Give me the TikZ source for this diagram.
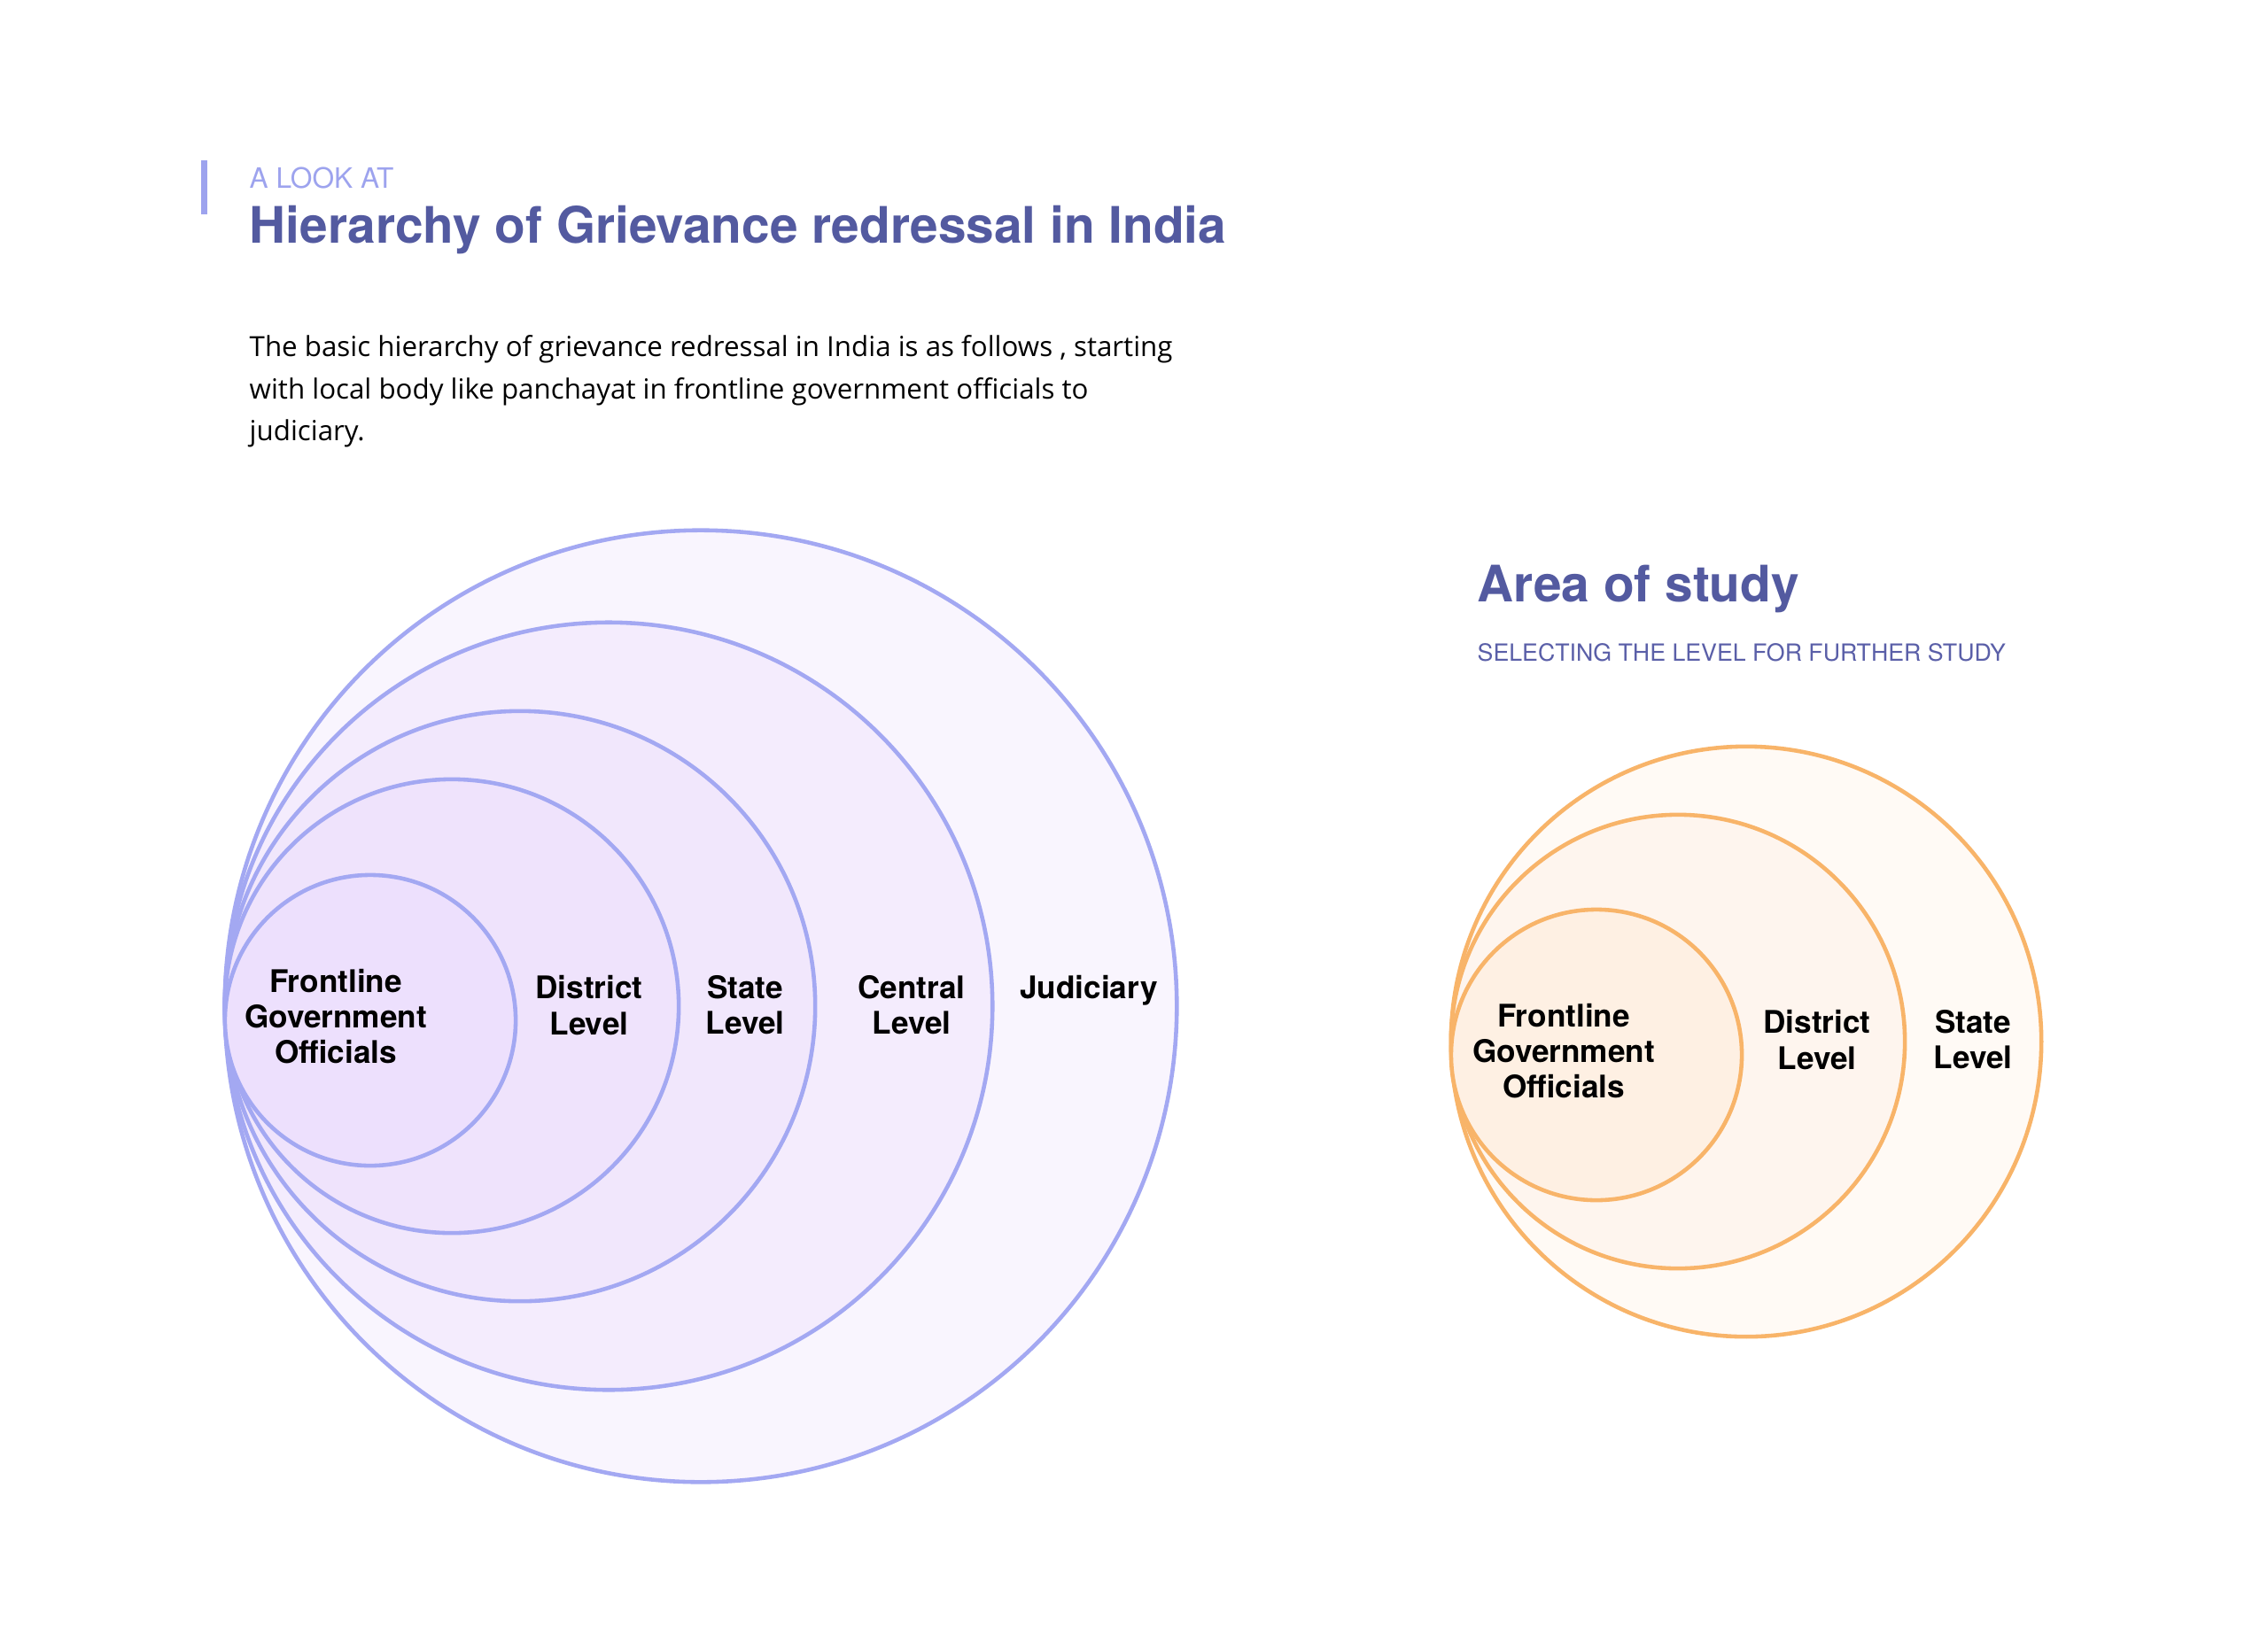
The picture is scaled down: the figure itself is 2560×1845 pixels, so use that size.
\documentclass[tikz,border=0pt]{standalone}
\usepackage{fontspec}
\setmainfont{Open Sans}
\newfontfamily\headfont{TeX Gyre Heros}
\definecolor{pstroke}{HTML}{A3A8F2}
\definecolor{ostroke}{HTML}{F8B469}
\definecolor{pfillA}{HTML}{F9F5FE}
\definecolor{pfillB}{HTML}{F4ECFD}
\definecolor{pfillC}{HTML}{F1E7FC}
\definecolor{pfillD}{HTML}{EFE3FC}
\definecolor{pfillE}{HTML}{EDE0FD}
\definecolor{ofillA}{HTML}{FFFAF5}
\definecolor{ofillB}{HTML}{FEF5EE}
\definecolor{ofillC}{HTML}{FEF0E3}
\definecolor{titlecol}{HTML}{535AA0}
\definecolor{kickercol}{HTML}{9DA3EE}
\definecolor{subcol}{HTML}{5A5FA8}
\begin{document}
\begin{tikzpicture}[x=0.01cm,y=-0.01cm,
  pring/.style={draw=pstroke,line width=1.3pt},
  oring/.style={draw=ostroke,line width=1.3pt},
  lab/.style={font=\headfont\fontsize{10}{11.4}\selectfont\bfseries,align=center,text=black,inner sep=0pt},
  titletext/.style={font=\headfont\fontsize{16.15}{19}\selectfont\bfseries,text=titlecol,anchor=base west,inner sep=0pt},
  kicker/.style={font=\headfont\fontsize{9}{10}\selectfont,text=kickercol,anchor=base west,inner sep=0pt},
  subtext/.style={font=\headfont\fontsize{7.6}{9}\selectfont,text=subcol,anchor=base west,inner sep=0pt},
  bodytext/.style={font=\fontsize{8.9}{13.5}\selectfont,text=black,anchor=north west,align=left,inner sep=0pt}
]
\useasboundingbox[fill=white] (0,0) rectangle (2560,1845);

% header
\fill[kickercol] (227,181) rectangle (234,242);
\node[kicker] (kick) at (281,212) {A LOOK AT};
\node[titletext] (title) at (281,274) {Hierarchy of Grievance redressal in India};
\node[bodytext] (body) at (281,378) {The basic hierarchy of grievance redressal in India is as follows , starting\\with local body like panchayat in frontline government officials to\\judiciary.};

% big diagram
\draw[pring,fill=pfillA] (791,1136) circle[radius=5.37cm];
\draw[pring,fill=pfillB] (687,1136) circle[radius=4.33cm];
\draw[pring,fill=pfillC] (587,1136) circle[radius=3.33cm];
\draw[pring,fill=pfillD] (510,1136) circle[radius=2.56cm];
\draw[pring,fill=pfillE] (418,1152) circle[radius=1.64cm];

\node[lab] (fgo) at (379,1148) {Frontline\\Government\\Officials};
\node[lab] (dl) at (665,1135) {District\\Level};
\node[lab] (sl) at (841,1135) {State\\Level};
\node[lab] (cl) at (1029,1135) {Central\\Level};
\node[lab] (jud) at (1229,1118) {Judiciary};

% area of study
\node[titletext] (area) at (1667,679) {Area of study};
\node[subtext] (sub) at (1667,746) {SELECTING THE LEVEL FOR FURTHER STUDY};

\draw[oring,fill=ofillA] (1971,1176) circle[radius=3.33cm];
\draw[oring,fill=ofillB] (1894,1176) circle[radius=2.56cm];
\draw[oring,fill=ofillC] (1802,1191) circle[radius=1.64cm];

\node[lab] (fgo2) at (1765,1187) {Frontline\\Government\\Officials};
\node[lab] (dl2) at (2051,1174) {District\\Level};
\node[lab] (sl2) at (2227,1174) {State\\Level};
\end{tikzpicture}
\end{document}
